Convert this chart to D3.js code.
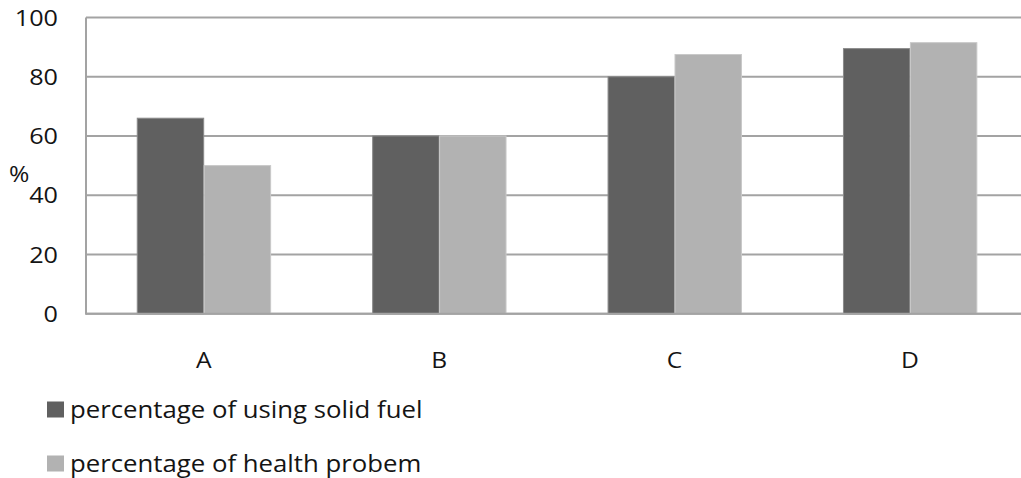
<!DOCTYPE html>
<html>
<head>
<meta charset="utf-8">
<script src="https://cdn.jsdelivr.net/npm/d3@7/dist/d3.min.js"></script>
<style>
  html, body { margin: 0; padding: 0; background: #fff; }
  svg { display: block; }
  text { font-family: "Open Sans", "Noto Sans", sans-serif; fill: #141414; }
</style>
</head>
<body>
<svg id="chart" width="1021" height="478"></svg>
<script>
// Chart data
const categories = ["A", "B", "C", "D"];
const solidFuel = [66, 60, 80, 89.5];
const healthProblem = [50, 60, 87.5, 91.5];
const seriesNames = ["percentage of using solid fuel", "percentage of health probem"];
const seriesColors = ["#606060", "#b2b2b2"];
const seriesStrokes = ["#8a8a8a", "#c8c8c8"];
const yTicks = [0, 20, 40, 60, 80, 100];

const svg = d3.select("#chart");
const plotLeft = 86, plotTop = 17.5, plotBottom = 313.7;
const bandStep = 235.4;
const plotRight = plotLeft + bandStep * categories.length;
const stretch = 1.12; // slightly wide lettering

const x = d3.scaleBand().domain(categories).range([plotLeft, plotRight]).paddingInner(0.4313).paddingOuter(0.2156);
const xs = d3.scaleBand().domain([0, 1]).range([0, x.bandwidth()]);
const y = d3.scaleLinear().domain([0, 100]).range([plotBottom, plotTop]);

// Horizontal gridlines
svg.append("g")
  .selectAll("line")
  .data(yTicks)
  .join("line")
  .attr("x1", plotLeft).attr("x2", 1021)
  .attr("y1", d => y(d)).attr("y2", d => y(d))
  .attr("stroke", "#a3a3a3").attr("stroke-width", 2);

// Vertical axis line
svg.append("line")
  .attr("x1", plotLeft).attr("x2", plotLeft)
  .attr("y1", y(100)).attr("y2", y(0) + 1)
  .attr("stroke", "#a3a3a3").attr("stroke-width", 2);

// Bars
const rows = categories.map((c, i) => ({ c, v: [solidFuel[i], healthProblem[i]] }));
const groups = svg.append("g").selectAll("g")
  .data(rows).join("g")
  .attr("transform", d => `translate(${x(d.c)},0)`);
groups.selectAll("rect")
  .data(d => d.v.map((v, k) => ({ v, k })))
  .join("rect")
  .attr("x", d => xs(d.k) + 0.5)
  .attr("width", xs.bandwidth() - 0.5)
  .attr("y", d => y(d.v))
  .attr("height", d => y(0) - y(d.v))
  .attr("fill", d => seriesColors[d.k])
  .attr("stroke", d => seriesStrokes[d.k])
  .attr("stroke-width", 1);

// Baseline drawn over bars
svg.append("line")
  .attr("x1", plotLeft).attr("x2", 1021)
  .attr("y1", y(0)).attr("y2", y(0))
  .attr("stroke", "#a3a3a3").attr("stroke-width", 2);

// Y tick labels
svg.append("g")
  .selectAll("text")
  .data(yTicks)
  .join("text")
  .attr("transform", d => `translate(58,${y(d)}) scale(${stretch},1)`)
  .attr("dy", "0.36em")
  .attr("text-anchor", "end")
  .style("font-size", "22.5px")
  .text(d => d);

// Y axis title
svg.append("text")
  .attr("transform", `translate(9,182) scale(${stretch},1)`)
  .style("font-size", "22px")
  .text("%");

// Category labels
svg.append("g")
  .selectAll("text")
  .data(categories)
  .join("text")
  .attr("transform", d => `translate(${x(d) + x.bandwidth() / 2},368) scale(${stretch},1)`)
  .attr("text-anchor", "middle")
  .style("font-size", "22px")
  .text(d => d);

// Legend
const legend = svg.append("g").selectAll("g")
  .data(seriesNames)
  .join("g")
  .attr("transform", (d, i) => `translate(47,${401.5 + i * 54})`);
legend.append("rect")
  .attr("width", 17).attr("height", 16)
  .attr("fill", (d, i) => seriesColors[i]);
legend.append("text")
  .attr("transform", `translate(23,8) scale(${stretch},1)`)
  .attr("dy", "0.36em")
  .style("font-size", "23px")
  .text(d => d);
</script>
</body>
</html>
